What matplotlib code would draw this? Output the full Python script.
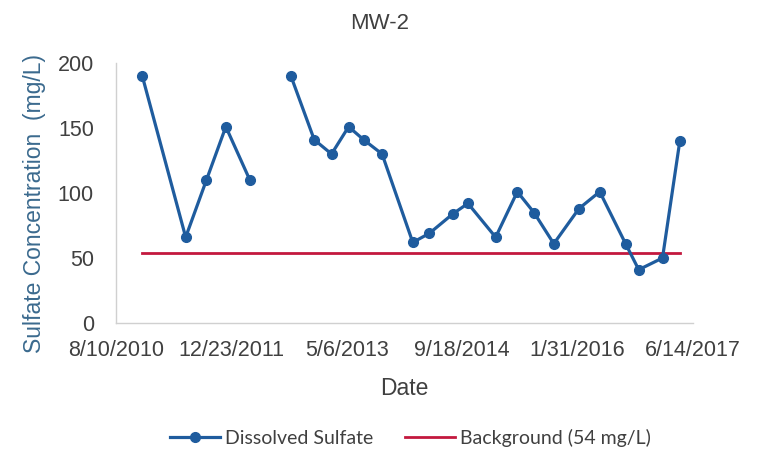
import numpy as np
import pandas as pd
import matplotlib
matplotlib.use("Agg")
import matplotlib.pyplot as plt
import matplotlib.dates as mdates

# sample dates and dissolved sulfate (mg/L); NaN marks the gap in the record
sample_dates = [
    "2010-12-02", "2011-06-08", "2011-09-06", "2011-11-29", "2012-03-12",
    "2012-06-20",
    "2012-09-06", "2012-12-16", "2013-03-01", "2013-05-14", "2013-07-18",
    "2013-10-06", "2014-02-16", "2014-04-29", "2014-08-09", "2014-10-13",
    "2015-02-10", "2015-05-15", "2015-07-26", "2015-10-20", "2016-02-06",
    "2016-05-06", "2016-08-26", "2016-10-22", "2017-02-02", "2017-04-18",
]
sulfate = [
    190, 66, 110, 151, 110,
    np.nan,
    190, 141, 130, 151, 141,
    130, 62, 69, 84, 92,
    66, 101, 85, 61, 88,
    101, 61, 41, 50, 140,
]
background = 54
tick_dates = ["2010-08-10", "2011-12-23", "2013-05-06", "2014-09-18", "2016-01-31", "2017-06-14"]
y_ticks = [0, 50, 100, 150, 200]

dates = pd.to_datetime(sample_dates)
ticks = pd.to_datetime(tick_dates)

blue = "#1f5c9e"
red = "#c3183e"
grey = "#404040"

plt.rcParams["font.family"] = ["Liberation Sans", "DejaVu Sans"]

fig = plt.figure(figsize=(7.6, 4.51), dpi=100)
ax = fig.add_axes([0.1526, 0.2838, 0.7592, 0.5765])

ax.plot(dates, sulfate, color=blue, lw=2.3, marker="o", ms=7,
        label="Dissolved Sulfate", zorder=3)
ax.plot([dates[0], dates[-1]], [background, background], color=red, lw=2,
        label="Background (54 mg/L)", zorder=2)

ax.set_xlim(ticks[0], ticks[-1])
ax.set_ylim(0, 200)
ax.set_xticks(ticks)
ax.xaxis.set_major_formatter(mdates.DateFormatter("%-m/%-d/%Y"))
ax.set_yticks(y_ticks)
ax.tick_params(axis="both", length=0, labelsize=15.5, colors=grey)
ax.tick_params(axis="y", pad=16)
ax.tick_params(axis="x", pad=12)

for side in ["top", "right"]:
    ax.spines[side].set_visible(False)
for side in ["left", "bottom"]:
    ax.spines[side].set_color("#d0d0d0")
    ax.spines[side].set_linewidth(1)

fig.text(0.5, 0.949, "MW-2", fontsize=16, color=grey, ha="center", va="center")
ax.set_ylabel("Sulfate Concentration  (mg/L)", fontsize=16.5, color="#3b6a8e")
ax.yaxis.set_label_coords(-0.122, 0.46)
ax.set_xlabel("Date", fontsize=16.5, color=grey, labelpad=12)

leg = fig.legend(loc="center", bbox_to_anchor=(0.54, 0.029), ncol=2, frameon=False,
                 prop={"family": "Lato", "size": 14}, handlelength=2.6,
                 columnspacing=1.6, handletextpad=0.25)
for t in leg.get_texts():
    t.set_color(grey)

plt.savefig("out.png", dpi=100)
